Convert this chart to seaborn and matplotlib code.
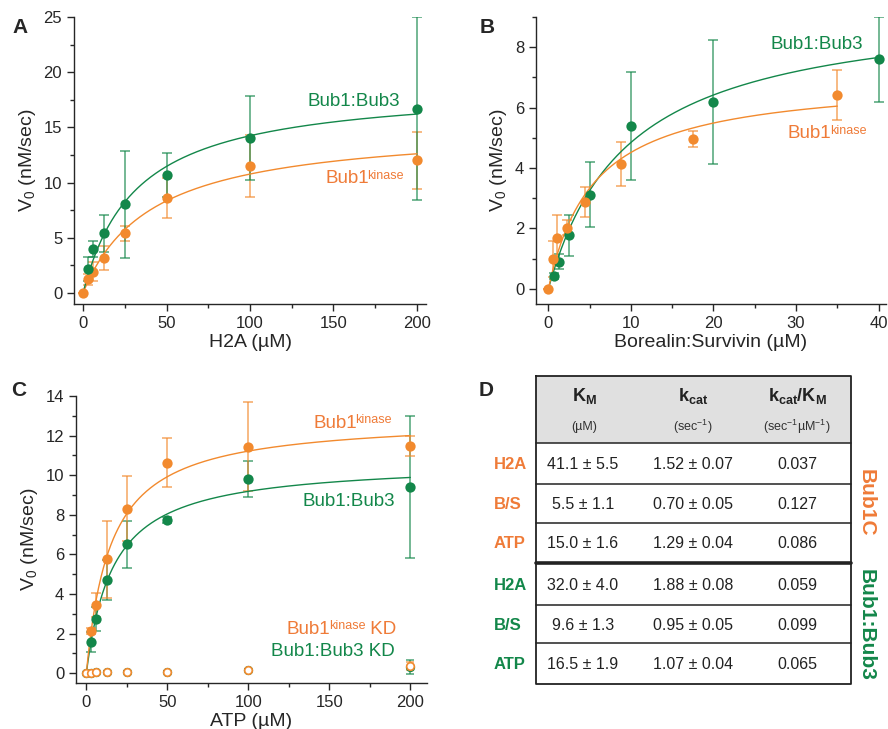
import numpy as np
import pandas as pd
import matplotlib
matplotlib.use('Agg')
import matplotlib.pyplot as plt
import seaborn as sns

GREEN = '#13874a'
ORANGE = '#f28a2e'
ORANGE_TXT = '#ef7b38'

# ---- panel A: H2A titration
h2a_x = [0, 3.125, 6.25, 12.5, 25, 50, 100, 200]
h2a_bub3 = [0, 2.14, 4.0, 5.4, 8.05, 10.68, 14.05, 16.68]
h2a_bub3_err = [0, 1.1, 0.73, 1.7, 4.85, 2.0, 3.8, 8.3]
h2a_kin = [0, 1.24, 1.93, 3.14, 5.4, 8.6, 11.52, 12.0]
h2a_kin_err = [0, 0.5, 0.85, 1.1, 0.7, 1.85, 2.83, 2.6]

# ---- panel B: Borealin:Survivin titration
bs_x_bub3 = [0, 0.625, 1.25, 2.5, 5, 10, 20, 40]
bs_bub3 = [0, 0.43, 0.9, 1.77, 3.12, 5.39, 6.2, 7.6]
bs_bub3_err = [0, 0.1, 0.25, 0.67, 1.07, 1.78, 2.05, 1.4]
bs_x_kin = [0, 0.55, 1.1, 2.2, 4.4, 8.75, 17.5, 35]
bs_kin = [0, 0.99, 1.7, 2.03, 2.88, 4.14, 4.95, 6.41]
bs_kin_err = [0, 0.6, 0.76, 0.25, 0.5, 0.73, 0.26, 0.82]

# ---- panel C: ATP titration
atp_x = [3.125, 6.25, 12.5, 25, 50, 100, 200]
atp_kin = [2.14, 3.43, 5.75, 8.31, 10.63, 11.44, 11.49]
atp_kin_err = [0.15, 0.6, 1.95, 1.65, 1.25, 2.25, 0.5]
atp_bub3 = [1.58, 2.74, 4.69, 6.5, 7.74, 9.81, 9.41]
atp_bub3_err = [0.5, 0.6, 1.0, 1.2, 0.15, 0.9, 3.6]
atp_kd_x = [0, 3.125, 6.25, 12.5, 25, 50, 100, 200]
atp_kin_kd = [0, 0.02, 0.05, 0.05, 0.07, 0.07, 0.17, 0.35]
atp_kin_kd_err = [0, 0.03, 0.05, 0.05, 0.05, 0.05, 0.06, 0.2]
atp_bub3_kd = [0, 0.02, 0.04, 0.05, 0.06, 0.06, 0.15, 0.32]
atp_bub3_kd_err = [0, 0.03, 0.05, 0.05, 0.05, 0.05, 0.06, 0.36]

# ---- panel D: kinetic parameters (table)
row_labels = ['H2A', 'B/S', 'ATP', 'H2A', 'B/S', 'ATP']
km_text = ['41.1 ± 5.5', '5.5 ± 1.1', '15.0 ± 1.6', '32.0 ± 4.0', '9.6 ± 1.3', '16.5 ± 1.9']
kcat_text = ['1.52 ± 0.07', '0.70 ± 0.05', '1.29 ± 0.04', '1.88 ± 0.08', '0.95 ± 0.05', '1.07 ± 0.04']
eff_text = ['0.037', '0.127', '0.086', '0.059', '0.099', '0.065']
km_kin = {'H2A': 41.1, 'B/S': 5.5, 'ATP': 15.0}
kcat_kin = {'H2A': 1.52, 'B/S': 0.70, 'ATP': 1.29}
km_bub3 = {'H2A': 32.0, 'B/S': 9.6, 'ATP': 16.5}
kcat_bub3 = {'H2A': 1.88, 'B/S': 0.95, 'ATP': 1.07}
enzyme_nM = 10

sns.set_style('ticks')
plt.rcParams['font.family'] = ['Liberation Sans', 'DejaVu Sans']
plt.rcParams['mathtext.fontset'] = 'custom'
plt.rcParams['mathtext.rm'] = 'Liberation Sans'
plt.rcParams['mathtext.it'] = 'Liberation Sans'
plt.rcParams['mathtext.bf'] = 'Liberation Sans:bold'
plt.rcParams['xtick.labelsize'] = 12
plt.rcParams['ytick.labelsize'] = 12
plt.rcParams['axes.linewidth'] = 1.0

W, H = 888, 729
fig = plt.figure(figsize=(W / 100, H / 100), dpi=100)


def px_axes(l, t, r, b):
    return fig.add_axes([l / W, 1 - b / H, (r - l) / W, (b - t) / H])


def mm_curve(km, kcat, xmax):
    xs = np.linspace(0, xmax, 400)
    return pd.DataFrame({'x': xs, 'y': kcat * enzyme_nM * xs / (km + xs)})


def series(ax, x, y, err, color, curve=None, hollow=False):
    ax.errorbar(x, y, yerr=err, fmt='none', ecolor=color, elinewidth=1.1,
                capsize=3.5 if not hollow else 3, capthick=1.1, alpha=0.75, zorder=2)
    if curve is not None:
        sns.lineplot(data=curve, x='x', y='y', ax=ax, color=color, lw=1.0, zorder=3)
    df = pd.DataFrame({'x': x, 'y': y})
    if hollow:
        sns.scatterplot(data=df, x='x', y='y', ax=ax, s=30, color='white',
                        edgecolor=color, linewidth=1.2, zorder=4)
    else:
        sns.scatterplot(data=df, x='x', y='y', ax=ax, s=55, color=color,
                        edgecolor=color, linewidth=0, zorder=4)


def style(ax, xlabel, xlim, ylim, xmajor, xminor, ymajor, yminor):
    sns.despine(ax=ax)
    ax.set_xlim(*xlim)
    ax.set_ylim(*ylim)
    ax.set_xticks(xmajor)
    ax.set_xticks(xminor, minor=True)
    ax.set_yticks(ymajor)
    ax.set_yticks(yminor, minor=True)
    ax.tick_params(which='major', length=5, width=1)
    ax.tick_params(which='minor', length=3, width=1)
    ax.set_xlabel(xlabel, fontsize=14, labelpad=2)
    ax.set_ylabel(r'V$_0$ (nM/sec)', fontsize=14, labelpad=4)


def kin_label(ax, x, y, suffix=''):
    t = ax.text(x, y, 'Bub1', color=ORANGE_TXT, fontsize=13.5, ha='left', va='baseline')
    s = ax.annotate('kinase', xy=(1, 1), xycoords=t, xytext=(-1.2, 0.5),
                    textcoords='offset points', ha='left', va='top',
                    fontsize=9, color=ORANGE_TXT)
    if suffix:
        ax.annotate(suffix, xy=(1, 0), xycoords=(s, t), ha='left', va='bottom',
                    fontsize=13.5, color=ORANGE_TXT)


# A
axA = px_axes(74, 17, 426, 304)
series(axA, h2a_x, h2a_kin, h2a_kin_err, ORANGE, mm_curve(km_kin['H2A'], kcat_kin['H2A'], 200))
series(axA, h2a_x[1:], h2a_bub3[1:], h2a_bub3_err[1:], GREEN, mm_curve(km_bub3['H2A'], kcat_bub3['H2A'], 200))
style(axA, 'H2A (µM)', (-5.4, 205.4), (-1.0, 25), [0, 50, 100, 150, 200],
      [25, 75, 125, 175], [0, 5, 10, 15, 20, 25], np.arange(2.5, 25, 5))
axA.text(190, 16.95, 'Bub1:Bub3', color=GREEN, fontsize=13.5, ha='right', va='baseline')
kin_label(axA, 145, 9.92)

# B
axB = px_axes(536, 17, 886, 304)
series(axB, bs_x_bub3[1:], bs_bub3[1:], bs_bub3_err[1:], GREEN, mm_curve(km_bub3['B/S'], kcat_bub3['B/S'], 40))
series(axB, bs_x_kin, bs_kin, bs_kin_err, ORANGE, mm_curve(km_kin['B/S'], kcat_kin['B/S'], 35))
style(axB, 'Borealin:Survivin (µM)', (-1.5, 40.9), (-0.5, 9.0), [0, 10, 20, 30, 40],
      [5, 15, 25, 35], [0, 2, 4, 6, 8], [1, 3, 5, 7, 9])
axB.text(38.1, 7.93, 'Bub1:Bub3', color=GREEN, fontsize=13.5, ha='right', va='baseline')
kin_label(axB, 29.0, 4.98)

# C
axC = px_axes(76, 396, 427, 683)
series(axC, atp_x, atp_bub3, atp_bub3_err, GREEN, mm_curve(km_bub3['ATP'], kcat_bub3['ATP'], 200))
series(axC, atp_x, atp_kin, atp_kin_err, ORANGE, mm_curve(km_kin['ATP'], kcat_kin['ATP'], 200))
series(axC, atp_kd_x, atp_bub3_kd, atp_bub3_kd_err, GREEN, hollow=True)
series(axC, atp_kd_x, atp_kin_kd, atp_kin_kd_err, ORANGE, hollow=True)
style(axC, 'ATP (µM)', (-6.4, 210.3), (-0.5, 14), [0, 50, 100, 150, 200],
      [25, 75, 125, 175], [0, 2, 4, 6, 8, 10, 12, 14], [1, 3, 5, 7, 9, 11, 13])
kin_label(axC, 140.3, 12.4)
axC.text(190.3, 8.45, 'Bub1:Bub3', color=GREEN, fontsize=13.5, ha='right', va='baseline')
kin_label(axC, 123.8, 2.0, ' KD')
axC.text(190.3, 0.875, 'Bub1:Bub3 KD', color=GREEN, fontsize=13.5, ha='right', va='baseline')

# D table, drawn in figure-pixel coordinates
axD = fig.add_axes([0, 0, 1, 1], zorder=-1)
axD.set_xlim(0, W)
axD.set_ylim(H, 0)
axD.axis('off')
tl, tr, tt, tb = 536, 851, 376, 684
hb = 443
row_edges = [443, 484, 523, 563, 605, 643, 684]
axD.add_patch(plt.Rectangle((tl, tt), tr - tl, hb - tt, facecolor='#e0e0e0', edgecolor='none'))
axD.plot([tl, tr, tr, tl, tl], [tt, tt, tb, tb, tt], color='#222222', lw=1.3)
for i, yy in enumerate(row_edges[:-1]):
    axD.plot([tl, tr], [yy, yy], color='#222222', lw=2.6 if i == 3 else 1.1)
col_x = [584, 693, 797]
heads = [r'$\mathbf{K_M}$', r'$\mathbf{k_{cat}}$', r'$\mathbf{k_{cat}/K_M}$']
units = ['(µM)', r'(sec$^{-1}$)', r'(sec$^{-1}$µM$^{-1}$)']
for cx, hd, un in zip(col_x, heads, units):
    axD.text(cx, 396, hd, fontsize=13, ha='center', va='center', color='#222222')
    axD.text(cx, 427, un, fontsize=9, ha='center', va='center', color='#333333')
for i in range(6):
    cy = (row_edges[i] + row_edges[i + 1]) / 2 + 1
    col = ORANGE_TXT if i < 3 else GREEN
    axD.text(494, cy, row_labels[i], fontsize=12, fontweight='bold', color=col, ha='left', va='center')
    axD.text(col_x[0] - 1, cy, km_text[i], fontsize=11.5, ha='center', va='center', color='#222222')
    axD.text(col_x[1], cy, kcat_text[i], fontsize=11.5, ha='center', va='center', color='#222222')
    axD.text(col_x[2], cy, eff_text[i], fontsize=11.5, ha='center', va='center', color='#222222')
axD.text(866, 503, 'Bub1C', fontsize=15, fontweight='bold', color=ORANGE_TXT, rotation=-90, ha='center', va='center')
axD.text(866, 625, 'Bub1:Bub3', fontsize=15, fontweight='bold', color=GREEN, rotation=-90, ha='center', va='center')

# panel letters
for lab, x, y in [('A', 12, 33), ('B', 480, 33), ('C', 11, 396), ('D', 479, 396)]:
    fig.text(x / W, 1 - y / H, lab, fontsize=15, fontweight='bold', ha='left', va='baseline')

fig.savefig('out.png', dpi=100)
